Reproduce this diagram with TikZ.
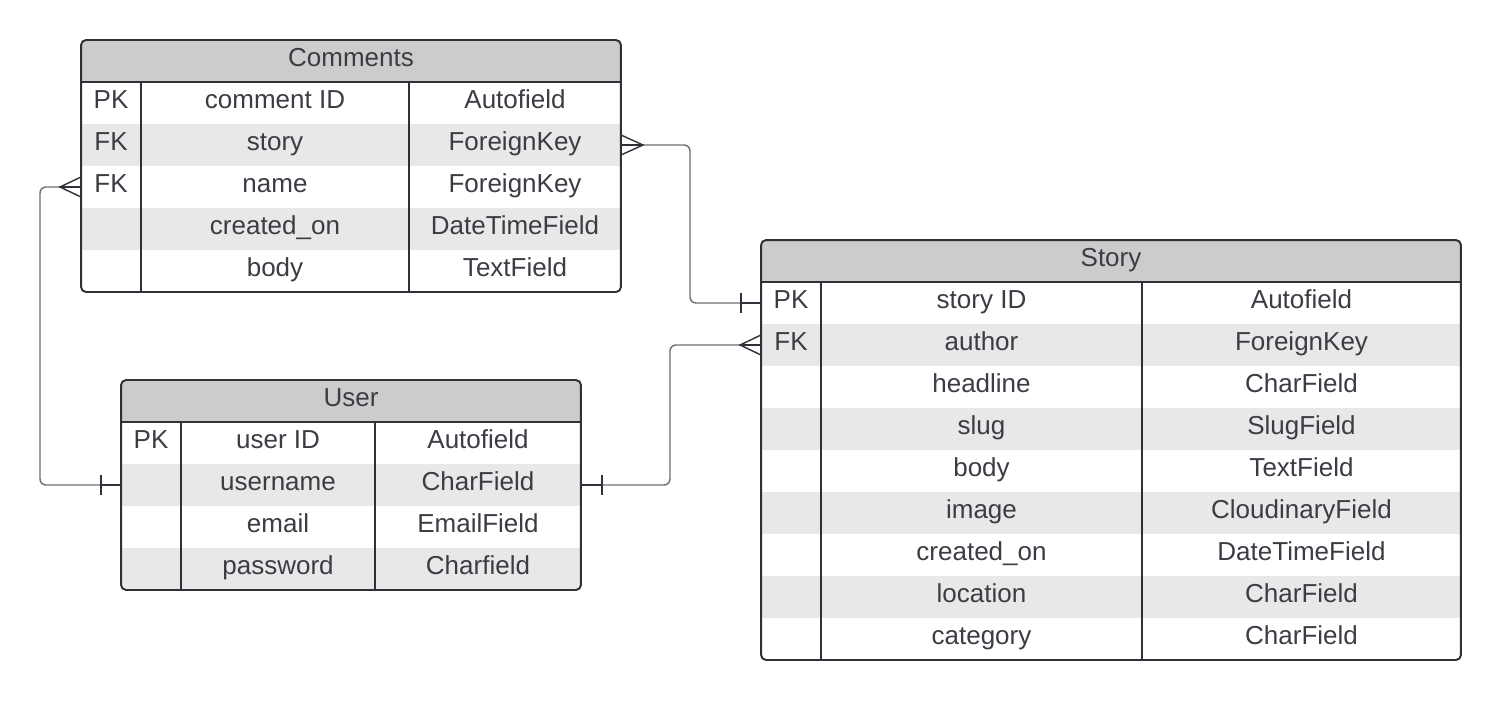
\documentclass[tikz,border=0pt]{standalone}
\usepackage{fontspec}
\setmainfont{Liberation Sans}
\usetikzlibrary{positioning, calc}
\definecolor{hdrgray}{HTML}{CCCCCC}
\definecolor{rowgray}{HTML}{E8E8E8}
\definecolor{lineink}{HTML}{2E3138}
\definecolor{textink}{HTML}{3A3D44}
\definecolor{linkgray}{HTML}{6A6E76}

\begin{document}
\begin{tikzpicture}[
    x=0.02cm, y=-0.02cm,
    frame/.style={rectangle, inner sep=0pt, outer sep=0pt},
    cell/.style={rectangle, inner sep=0pt, outer sep=0pt, minimum height=0.84cm, text=textink, font=\fontsize{14.8}{17}\selectfont, text height=1.5ex, text depth=.25ex},
    head/.style={cell, fill=hdrgray},
    border/.style={draw=lineink, line width=1.1pt},
    roundb/.style={border, rounded corners=0.1cm},
    link/.style={draw=linkgray, line width=0.8pt, rounded corners=0.12cm},
    foot/.style={draw=lineink, line width=0.8pt}
]
    \useasboundingbox (0,0) rectangle (1501,700);

    % Comments table
    \node[frame, minimum width=10.8cm, minimum height=5.04cm] (com) at (351,166) {};
    \begin{scope}
        \path[clip, rounded corners=0.1cm] (com.north west) rectangle (com.south east);
        \node[head, minimum width=10.8cm] (com-head) at (351,61) {Comments};
        \foreach \k/\n/\t/\f [count=\i] in {PK/comment ID/Autofield/white, FK/story/ForeignKey/rowgray, FK/name/ForeignKey/white, /created\_on/DateTimeField/rowgray, /body/TextField/white} {
            \node[cell, fill=\f, minimum width=1.2cm] (com-key\i) at (111,{103+42*(\i-1)}) {\k};
            \node[cell, fill=\f, minimum width=5.36cm] (com-name\i) at (275,{103+42*(\i-1)}) {\n};
            \node[cell, fill=\f, minimum width=4.24cm] (com-type\i) at (515,{103+42*(\i-1)}) {\t};
        }
    \end{scope}
    \draw[border] (com-head.south west) -- (com-head.south east);
    \draw[border] (com-key1.north east) -- (com-key5.south east);
    \draw[border] (com-name1.north east) -- (com-name5.south east);
    \draw[roundb] (com.north west) rectangle (com.south east);

    % User table
    \node[frame, minimum width=9.2cm, minimum height=4.2cm] (usr) at (351,485) {};
    \begin{scope}
        \path[clip, rounded corners=0.1cm] (usr.north west) rectangle (usr.south east);
        \node[head, minimum width=9.2cm] (usr-head) at (351,401) {User};
        \foreach \k/\n/\t/\f [count=\i] in {PK/user ID/Autofield/white, /username/CharField/rowgray, /email/EmailField/white, /password/Charfield/rowgray} {
            \node[cell, fill=\f, minimum width=1.2cm] (usr-key\i) at (151,{443+42*(\i-1)}) {\k};
            \node[cell, fill=\f, minimum width=3.88cm] (usr-name\i) at (278,{443+42*(\i-1)}) {\n};
            \node[cell, fill=\f, minimum width=4.12cm] (usr-type\i) at (478,{443+42*(\i-1)}) {\t};
        }
    \end{scope}
    \draw[border] (usr-head.south west) -- (usr-head.south east);
    \draw[border] (usr-key1.north east) -- (usr-key4.south east);
    \draw[border] (usr-name1.north east) -- (usr-name4.south east);
    \draw[roundb] (usr.north west) rectangle (usr.south east);

    % Story table
    \node[frame, minimum width=14cm, minimum height=8.4cm] (sto) at (1111,450) {};
    \begin{scope}
        \path[clip, rounded corners=0.1cm] (sto.north west) rectangle (sto.south east);
        \node[head, minimum width=14cm] (sto-head) at (1111,261) {Story};
        \foreach \k/\n/\t/\f [count=\i] in {PK/story ID/Autofield/white, FK/author/ForeignKey/rowgray, /headline/CharField/white, /slug/SlugField/rowgray, /body/TextField/white, /image/CloudinaryField/rowgray, /created\_on/DateTimeField/white, /location/CharField/rowgray, /category/CharField/white} {
            \node[cell, fill=\f, minimum width=1.2cm] (sto-key\i) at (791,{303+42*(\i-1)}) {\k};
            \node[cell, fill=\f, minimum width=6.42cm] (sto-name\i) at (981.5,{303+42*(\i-1)}) {\n};
            \node[cell, fill=\f, minimum width=6.38cm] (sto-type\i) at (1301.5,{303+42*(\i-1)}) {\t};
        }
    \end{scope}
    \draw[border] (sto-head.south west) -- (sto-head.south east);
    \draw[border] (sto-key1.north east) -- (sto-key9.south east);
    \draw[border] (sto-name1.north east) -- (sto-name9.south east);
    \draw[roundb] (sto.north west) rectangle (sto.south east);

    % relations
    \coordinate (bendA) at (690,0);
    \coordinate (bendB) at (40,0);
    \coordinate (bendC) at (670,0);

    \draw[link] (com-type2.east) -| (bendA |- sto-key1.west) -- (sto-key1.west);
    \draw[foot] (com-type2.east) ++(0,-10) -- ++(22,10) -- ++(-22,10);
    \draw[foot] (com-type2.east) -- ++(22,0);
    \draw[foot] (sto-key1.west) ++(-20,-10) -- ++(0,20);
    \draw[foot] (sto-key1.west) -- ++(-20,0);

    \draw[link] (com-key3.west) -| (bendB |- usr-key2.west) -- (usr-key2.west);
    \draw[foot] (com-key3.west) ++(0,-10) -- ++(-21,10) -- ++(21,10);
    \draw[foot] (com-key3.west) -- ++(-21,0);
    \draw[foot] (usr-key2.west) ++(-20,-10) -- ++(0,20);
    \draw[foot] (usr-key2.west) -- ++(-20,0);

    \draw[link] (usr-type2.east) -| (bendC |- sto-key2.west) -- (sto-key2.west);
    \draw[foot] (usr-type2.east) ++(21,-10) -- ++(0,20);
    \draw[foot] (usr-type2.east) -- ++(21,0);
    \draw[foot] (sto-key2.west) ++(0,-10) -- ++(-21,10) -- ++(21,10);
    \draw[foot] (sto-key2.west) -- ++(-21,0);
\end{tikzpicture}
\end{document}
